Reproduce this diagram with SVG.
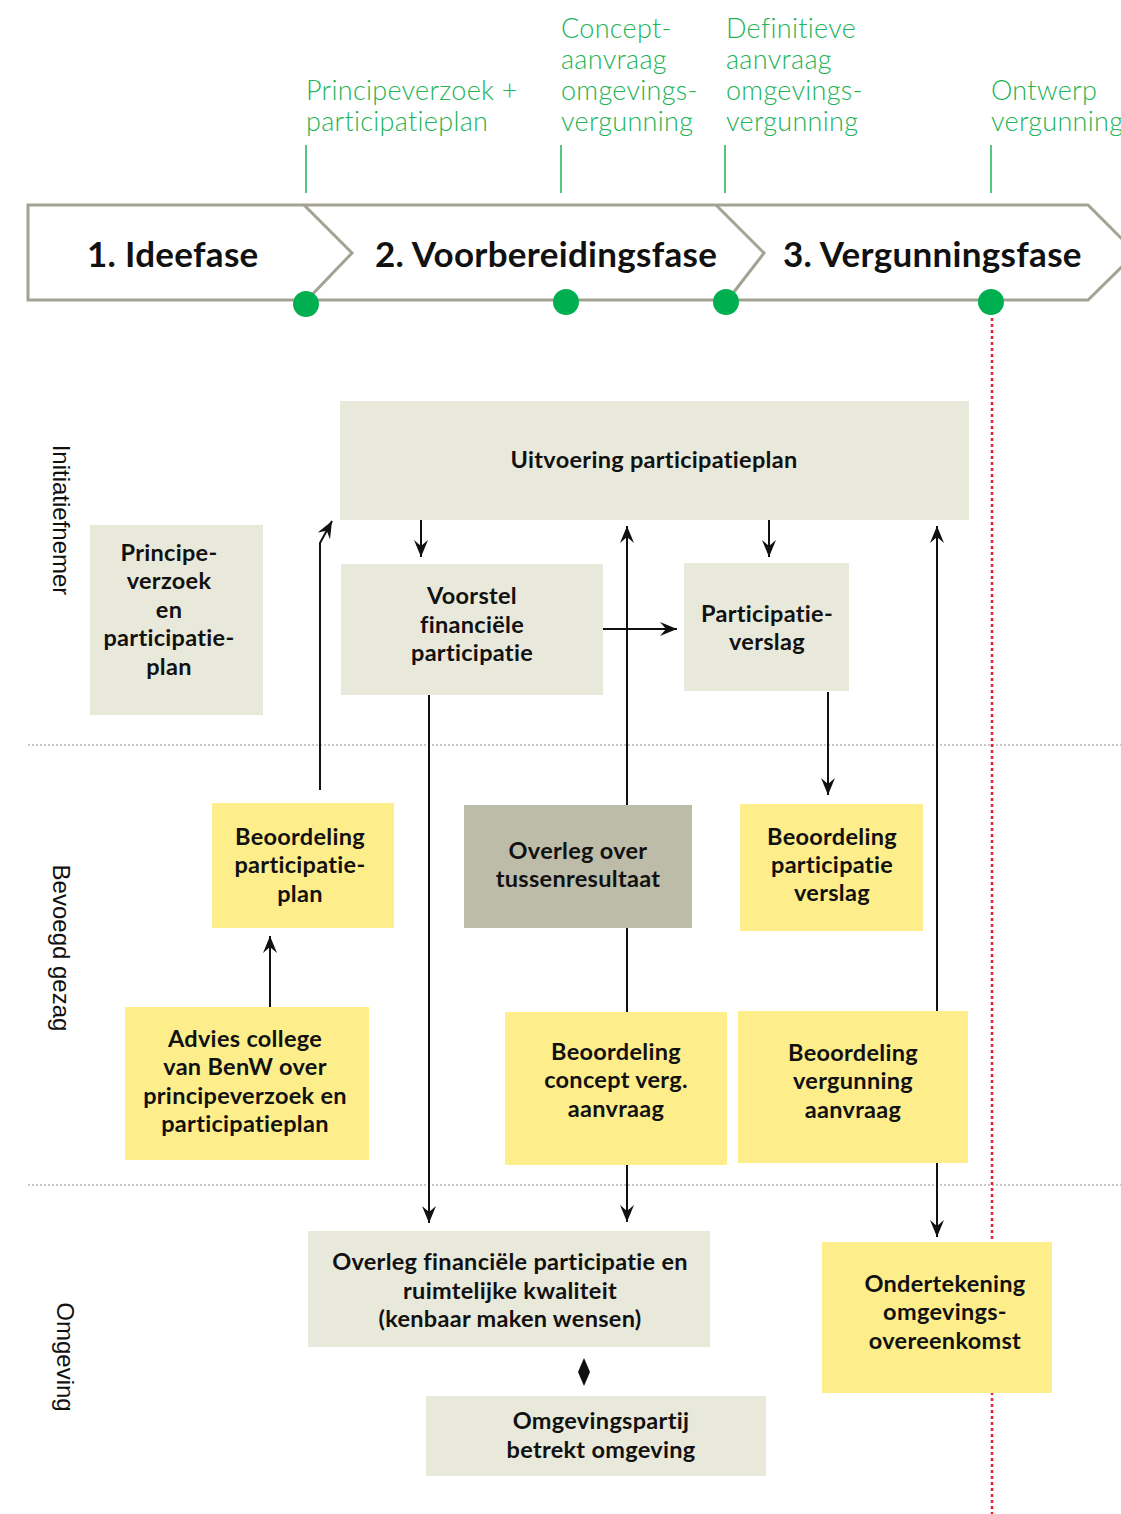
<svg xmlns="http://www.w3.org/2000/svg" width="1121" height="1514" viewBox="0 0 1121 1514">
<defs>
<style>
.phase{font-family:Lato,"Open Sans",sans-serif;font-weight:700;font-size:35px;letter-spacing:0.3px;fill:#111}
.ms{font-family:Lato,"Open Sans",sans-serif;font-weight:300;font-size:27px;letter-spacing:0.3px;fill:#22b356}
.lane{font-family:"Liberation Sans",Arial,sans-serif;font-size:24px;fill:#111}
.t{font-family:Lato,"Open Sans",sans-serif;font-weight:700;font-size:23.5px;letter-spacing:0.3px;fill:#111;text-anchor:middle}
.beige{fill:#e9e9db}
.yellow{fill:#fdee8b}
.olive{fill:#bcbca9}
.con{stroke:#111;stroke-width:2;fill:none}
.tick{stroke:#22b356;stroke-width:1.5}
.sep{stroke:#c8c8c8;stroke-width:2;stroke-dasharray:2 2}
</style>
<marker id="ah" markerUnits="userSpaceOnUse" markerWidth="20" markerHeight="16" viewBox="-18 -8 20 16" refX="0" refY="0" orient="auto">
<path d="M0,0 L-17,-7 L-11,0 L-17,7 Z" fill="#111"/>
</marker>
</defs>
<rect width="1121" height="1514" fill="#fff"/>

<g id="milestones">
<text class="ms" x="306" y="100">Principeverzoek +</text>
<text class="ms" x="306" y="131">participatieplan</text>
<text class="ms" x="561" y="38">Concept-</text>
<text class="ms" x="561" y="69">aanvraag</text>
<text class="ms" x="561" y="100">omgevings-</text>
<text class="ms" x="561" y="131">vergunning</text>
<text class="ms" x="726" y="38">Definitieve</text>
<text class="ms" x="726" y="69">aanvraag</text>
<text class="ms" x="726" y="100">omgevings-</text>
<text class="ms" x="726" y="131">vergunning</text>
<text class="ms" x="991" y="100">Ontwerp</text>
<text class="ms" x="991" y="131">vergunning</text>
<line class="tick" x1="306" y1="145" x2="306" y2="193"/>
<line class="tick" x1="561" y1="145" x2="561" y2="193"/>
<line class="tick" x1="725" y1="145" x2="725" y2="193"/>
<line class="tick" x1="991" y1="145" x2="991" y2="193"/>
</g>

<g id="phases">
<path d="M28,205 L1088,205 L1136,253 L1088,300 L28,300 Z" fill="none" stroke="#a3a293" stroke-width="3"/>
<path d="M304,205 L352,253 L306,301" fill="none" stroke="#a3a293" stroke-width="3"/>
<path d="M716,205 L764,253 L727,301" fill="none" stroke="#a3a293" stroke-width="3"/>
<text class="phase" x="87" y="267">1. Ideefase</text>
<text class="phase" x="375" y="267">2. Voorbereidingsfase</text>
<text class="phase" x="783" y="267">3. Vergunningsfase</text>
<circle cx="306" cy="304" r="13" fill="#00b050"/>
<circle cx="566" cy="302" r="13" fill="#00b050"/>
<circle cx="726" cy="302" r="13" fill="#00b050"/>
<circle cx="991" cy="302" r="13" fill="#00b050"/>
</g>

<g id="lanes">
<line class="sep" x1="28" y1="745" x2="1121" y2="745"/>
<line class="sep" x1="28" y1="1185" x2="1121" y2="1185"/>
<text class="lane" transform="translate(53,520) rotate(90)" text-anchor="middle">Initiatiefnemer</text>
<text class="lane" transform="translate(53,948) rotate(90)" text-anchor="middle">Bevoegd gezag</text>
<text class="lane" transform="translate(57,1357) rotate(90)" text-anchor="middle">Omgeving</text>
</g>

<line id="deadline" x1="992" y1="318" x2="992" y2="1514" stroke="#e8242a" stroke-width="2.5" stroke-dasharray="3 3"/>

<g id="connectors">
<path class="con" d="M320,790 L320,543 L332,521" marker-end="url(#ah)"/>
<line class="con" x1="421" y1="520" x2="421" y2="557" marker-end="url(#ah)"/>
<line class="con" x1="627" y1="1012" x2="627" y2="526" marker-end="url(#ah)"/>
<line class="con" x1="603" y1="629" x2="677" y2="629" marker-end="url(#ah)"/>
<line class="con" x1="769" y1="520" x2="769" y2="557" marker-end="url(#ah)"/>
<line class="con" x1="828" y1="692" x2="828" y2="795" marker-end="url(#ah)"/>
<line class="con" x1="937" y1="1011" x2="937" y2="526" marker-end="url(#ah)"/>
<line class="con" x1="429" y1="695" x2="429" y2="1223" marker-end="url(#ah)"/>
<line class="con" x1="627" y1="1165" x2="627" y2="1222" marker-end="url(#ah)"/>
<line class="con" x1="937" y1="1163" x2="937" y2="1237" marker-end="url(#ah)"/>
<line class="con" x1="270" y1="1007" x2="270" y2="936" marker-end="url(#ah)"/>
<path d="M584,1358 L590,1372 L584,1386 L578,1372 Z" fill="#111"/>
</g>

<g id="n-uitvoering">
<rect class="beige" x="340" y="401" width="629" height="119"/>
<text class="t" x="654" y="468">Uitvoering participatieplan</text>
</g>
<g id="n-principe">
<rect class="beige" x="90" y="525" width="173" height="190"/>
<text class="t" x="169" y="561">Principe-</text>
<text class="t" x="169" y="589">verzoek</text>
<text class="t" x="169" y="618">en</text>
<text class="t" x="169" y="646">participatie-</text>
<text class="t" x="169" y="675">plan</text>
</g>
<g id="n-voorstel">
<rect class="beige" x="341" y="564" width="262" height="131"/>
<text class="t" x="472" y="604">Voorstel</text>
<text class="t" x="472" y="633">financiële</text>
<text class="t" x="472" y="661">participatie</text>
</g>
<g id="n-verslag">
<rect class="beige" x="684" y="563" width="165" height="128"/>
<text class="t" x="767" y="622">Participatie-</text>
<text class="t" x="767" y="650">verslag</text>
</g>
<g id="n-beoordeling-plan">
<rect class="yellow" x="212" y="803" width="182" height="125"/>
<text class="t" x="300" y="845">Beoordeling</text>
<text class="t" x="300" y="873">participatie-</text>
<text class="t" x="300" y="902">plan</text>
</g>
<g id="n-overleg-tussen">
<rect class="olive" x="464" y="805" width="228" height="123"/>
<text class="t" x="578" y="859">Overleg over</text>
<text class="t" x="578" y="887">tussenresultaat</text>
</g>
<g id="n-beoordeling-verslag">
<rect class="yellow" x="740" y="804" width="183" height="127"/>
<text class="t" x="832" y="845">Beoordeling</text>
<text class="t" x="832" y="873">participatie</text>
<text class="t" x="832" y="901">verslag</text>
</g>
<g id="n-advies">
<rect class="yellow" x="125" y="1007" width="244" height="153"/>
<text class="t" x="245" y="1047">Advies college</text>
<text class="t" x="245" y="1075">van BenW over</text>
<text class="t" x="245" y="1104">principeverzoek en</text>
<text class="t" x="245" y="1132">participatieplan</text>
</g>
<g id="n-beoordeling-concept">
<rect class="yellow" x="505" y="1012" width="222" height="153"/>
<text class="t" x="616" y="1060">Beoordeling</text>
<text class="t" x="616" y="1088">concept verg.</text>
<text class="t" x="616" y="1117">aanvraag</text>
</g>
<g id="n-beoordeling-vergunning">
<rect class="yellow" x="738" y="1011" width="230" height="152"/>
<text class="t" x="853" y="1061">Beoordeling</text>
<text class="t" x="853" y="1089">vergunning</text>
<text class="t" x="853" y="1118">aanvraag</text>
</g>
<g id="n-overleg-financieel">
<rect class="beige" x="308" y="1231" width="402" height="116"/>
<text class="t" x="510" y="1270">Overleg financiële participatie en</text>
<text class="t" x="510" y="1299">ruimtelijke kwaliteit</text>
<text class="t" x="510" y="1327">(kenbaar maken wensen)</text>
</g>
<g id="n-ondertekening">
<rect class="yellow" x="822" y="1242" width="230" height="151"/>
<text class="t" x="945" y="1292">Ondertekening</text>
<text class="t" x="945" y="1320">omgevings-</text>
<text class="t" x="945" y="1349">overeenkomst</text>
</g>
<g id="n-omgevingspartij">
<rect class="beige" x="426" y="1396" width="340" height="80"/>
<text class="t" x="601" y="1429">Omgevingspartij</text>
<text class="t" x="601" y="1458">betrekt omgeving</text>
</g>
</svg>
